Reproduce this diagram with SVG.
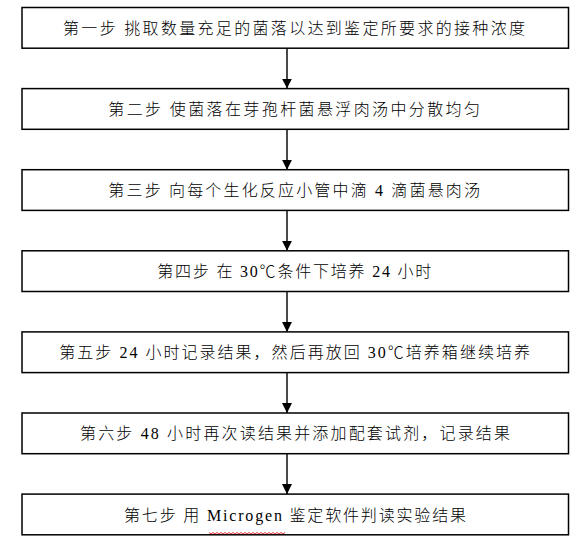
<svg xmlns="http://www.w3.org/2000/svg" width="587" height="549" viewBox="0 0 587 549">
<style>
.box{fill:#fff;stroke:#000;stroke-width:1.5}
.lbl{font-family:"Liberation Serif","Noto Sans CJK SC",serif;font-size:16px;font-weight:300;fill:#000}
.conn{stroke:#4a4a4a;stroke-width:2;fill:none}
.head{fill:#000}
.squig{stroke:#e00000;stroke-width:0.8;fill:none}
</style>
<defs>
<marker id="ah" markerWidth="10" markerHeight="10" refX="10" refY="5" orient="auto" markerUnits="userSpaceOnUse">
<path class="head" d="M0,0 L10,5 L0,10 Z"/>
</marker>
</defs>
<rect width="587" height="549" fill="#fff"/>
<g id="connectors">
<line class="conn" x1="287" y1="48.2" x2="287" y2="88.6" marker-end="url(#ah)"/>
<line class="conn" x1="287" y1="129.3" x2="287" y2="169.7" marker-end="url(#ah)"/>
<line class="conn" x1="287" y1="210.4" x2="287" y2="250.8" marker-end="url(#ah)"/>
<line class="conn" x1="287" y1="291.5" x2="287" y2="331.9" marker-end="url(#ah)"/>
<line class="conn" x1="287" y1="372.6" x2="287" y2="413" marker-end="url(#ah)"/>
<line class="conn" x1="287" y1="453.7" x2="287" y2="494.1" marker-end="url(#ah)"/>
</g>
<g id="step1">
<rect class="box" x="22" y="7.5" width="546.5" height="40.7"/>
<text class="lbl" x="63" y="33.9" textLength="462" lengthAdjust="spacing">第一步 挑取数量充足的菌落以达到鉴定所要求的接种浓度</text>
</g>
<g id="step2">
<rect class="box" x="22" y="88.6" width="546.5" height="40.7"/>
<text class="lbl" x="108.3" y="115" textLength="371.7" lengthAdjust="spacing">第二步 使菌落在芽孢杆菌悬浮肉汤中分散均匀</text>
</g>
<g id="step3">
<rect class="box" x="22" y="169.7" width="546.5" height="40.7"/>
<text class="lbl" x="108.3" y="196.1" textLength="371.7" lengthAdjust="spacing">第三步 向每个生化反应小管中滴 4 滴菌悬肉汤</text>
</g>
<g id="step4">
<rect class="box" x="22" y="250.8" width="546.5" height="40.7"/>
<text class="lbl" x="157.3" y="277.2" textLength="274" lengthAdjust="spacing">第四步 在 30℃条件下培养 24 小时</text>
</g>
<g id="step5">
<rect class="box" x="22" y="331.9" width="546.5" height="40.7"/>
<text class="lbl" x="59.3" y="358.3" textLength="470.7" lengthAdjust="spacing">第五步 24 小时记录结果，然后再放回 30℃培养箱继续培养</text>
</g>
<g id="step6">
<rect class="box" x="22" y="413" width="546.5" height="40.7"/>
<text class="lbl" x="80" y="439.4" textLength="430" lengthAdjust="spacing">第六步 48 小时再次读结果并添加配套试剂，记录结果</text>
</g>
<g id="step7">
<rect class="box" x="22" y="494.1" width="546.5" height="40.7"/>
<text class="lbl" x="124" y="520.5" textLength="342" lengthAdjust="spacing">第七步 用 Microgen 鉴定软件判读实验结果</text>
<path class="squig" d="M209,532.5 l2,1.5 l2,-1.5 l2,1.5 l2,-1.5 l2,1.5 l2,-1.5 l2,1.5 l2,-1.5 l2,1.5 l2,-1.5 l2,1.5 l2,-1.5 l2,1.5 l2,-1.5 l2,1.5 l2,-1.5 l2,1.5 l2,-1.5 l2,1.5 l2,-1.5 l2,1.5 l2,-1.5 l2,1.5 l2,-1.5 l2,1.5 l2,-1.5 l2,1.5 l2,-1.5 l2,1.5 l2,-1.5 l2,1.5 l2,-1.5 l2,1.5 l2,-1.5 l2,1.5 l2,-1.5 l2,1.5 l2,-1.5"/>
</g>
</svg>
